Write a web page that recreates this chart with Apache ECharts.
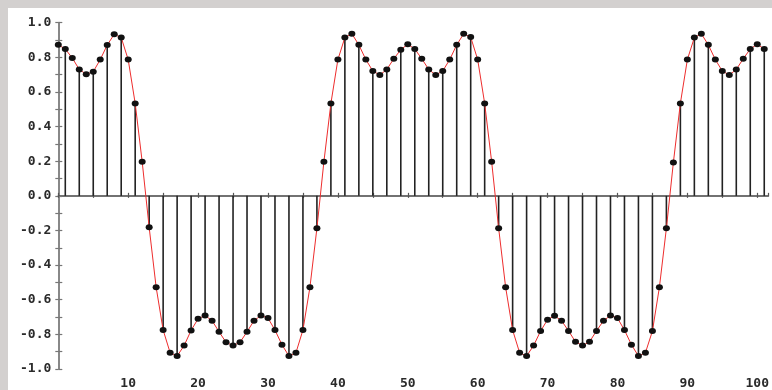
<!DOCTYPE html>
<html>
<head>
<meta charset="utf-8">
<script src="https://cdn.jsdelivr.net/npm/echarts@6/dist/echarts.min.js"></script>
<style>
html,body{margin:0;padding:0;background:#fff;}
#c{width:772px;height:390px;}
</style>
</head>
<body>
<div id="c"></div>
<script>
// Sample values, one per integer x from 0 to 101
const yValues = [
  0.872, 0.848, 0.796, 0.730, 0.702, 0.717, 0.787, 0.871, 0.933, 0.914,
  0.787, 0.534, 0.197, -0.182, -0.528, -0.775, -0.906, -0.925, -0.865, -0.777,
  -0.710, -0.691, -0.721, -0.785, -0.846, -0.865, -0.846, -0.785, -0.721, -0.691,
  -0.706, -0.775, -0.860, -0.925, -0.906, -0.775, -0.528, -0.187, 0.197, 0.534,
  0.787, 0.914, 0.936, 0.872, 0.787, 0.721, 0.698, 0.730, 0.792, 0.844,
  0.876, 0.848, 0.792, 0.730, 0.698, 0.721, 0.787, 0.872, 0.936, 0.917,
  0.787, 0.534, 0.197, -0.187, -0.528, -0.775, -0.906, -0.925, -0.865, -0.781,
  -0.715, -0.693, -0.721, -0.780, -0.843, -0.865, -0.843, -0.780, -0.721, -0.691,
  -0.706, -0.775, -0.860, -0.925, -0.906, -0.781, -0.528, -0.187, 0.193, 0.534,
  0.787, 0.914, 0.936, 0.872, 0.787, 0.721, 0.698, 0.730, 0.792, 0.848,
  0.876, 0.848
];
const xTickLabels = [10, 20, 30, 40, 50, 60, 70, 80, 90, 100];
const yTickLabels = [-1.0, -0.8, -0.6, -0.4, -0.2, 0.0, 0.2, 0.4, 0.6, 0.8, 1.0];

const points = yValues.map((v, i) => [i, v]);
const stems = points.filter(p => p[0] % 2 === 1);

const labelFont = {fontFamily: 'DejaVu Sans Mono', fontWeight: 'bold', fontSize: 13, color: '#2a2a2a'};

const chart = echarts.init(document.getElementById('c'), null, {renderer: 'canvas'});
chart.setOption({
  animation: false,
  backgroundColor: '#ffffff',
  graphic: [
    {type: 'rect', left: 0, top: 0, shape: {width: 772, height: 8}, style: {fill: '#d3d0cf'}, silent: true},
    {type: 'rect', left: 0, top: 0, shape: {width: 8, height: 390}, style: {fill: '#d3d0cf'}, silent: true}
  ],
  grid: {left: 58.3, right: 1, top: 22.7, bottom: 10.7, containLabel: false},
  xAxis: [
    {
      type: 'value', min: 0, max: 101.6, interval: 5, position: 'bottom',
      axisLine: {onZero: true, lineStyle: {color: '#444', width: 1.5}},
      axisTick: {show: true, inside: false, length: 2, lineStyle: {color: '#555', width: 1.2}},
      axisLabel: Object.assign({
        margin: 8, showMaxLabel: false,
        formatter: v => (xTickLabels.indexOf(v) >= 0 ? String(v) : '')
      }, labelFont),
      splitLine: {show: false}
    },
    {
      type: 'value', min: 0, max: 101.6, interval: 5, position: 'bottom',
      axisLine: {show: false, onZero: true},
      axisTick: {show: true, inside: true, length: 3, lineStyle: {color: '#555', width: 1.2}},
      axisLabel: {show: false},
      splitLine: {show: false}
    }
  ],
  yAxis: [
    {
      type: 'value', min: -1, max: 1, interval: 0.1, position: 'left',
      axisLine: {show: true, onZero: false, lineStyle: {color: '#888', width: 2}},
      axisTick: {show: true, inside: false, length: 3, lineStyle: {color: '#777', width: 1.2}},
      axisLabel: Object.assign({
        margin: 7,
        formatter: v => {
          const r = Math.round(v * 10) / 10;
          const hit = yTickLabels.find(t => Math.abs(t - r) < 1e-6);
          return hit === undefined ? '' : (hit === 0 ? '0.0' : hit.toFixed(1));
        }
      }, labelFont),
      splitLine: {show: false}
    },
    {
      type: 'value', min: -1, max: 1, interval: 0.1, position: 'left',
      axisLine: {show: false, onZero: false},
      axisTick: {show: true, inside: true, length: 4, lineStyle: {color: '#777', width: 1.2}},
      axisLabel: {show: false},
      splitLine: {show: false}
    }
  ],
  series: [
    {
      type: 'custom',
      xAxisIndex: 0, yAxisIndex: 0,
      z: 1,
      data: stems,
      renderItem: function (params, api) {
        const x = api.value(0), y = api.value(1);
        const p0 = api.coord([x, 0]);
        const p1 = api.coord([x, y]);
        return {
          type: 'line',
          shape: {x1: p0[0], y1: p0[1], x2: p1[0], y2: p1[1]},
          style: {stroke: '#222', lineWidth: 1.6}
        };
      }
    },
    {
      type: 'line',
      xAxisIndex: 0, yAxisIndex: 0,
      z: 3,
      data: points,
      showSymbol: true,
      symbol: 'circle',
      symbolSize: [7, 6],
      itemStyle: {color: '#111'},
      lineStyle: {color: '#ee2d2d', width: 1},
      emphasis: {disabled: true}
    }
  ]
});
</script>
</body>
</html>
